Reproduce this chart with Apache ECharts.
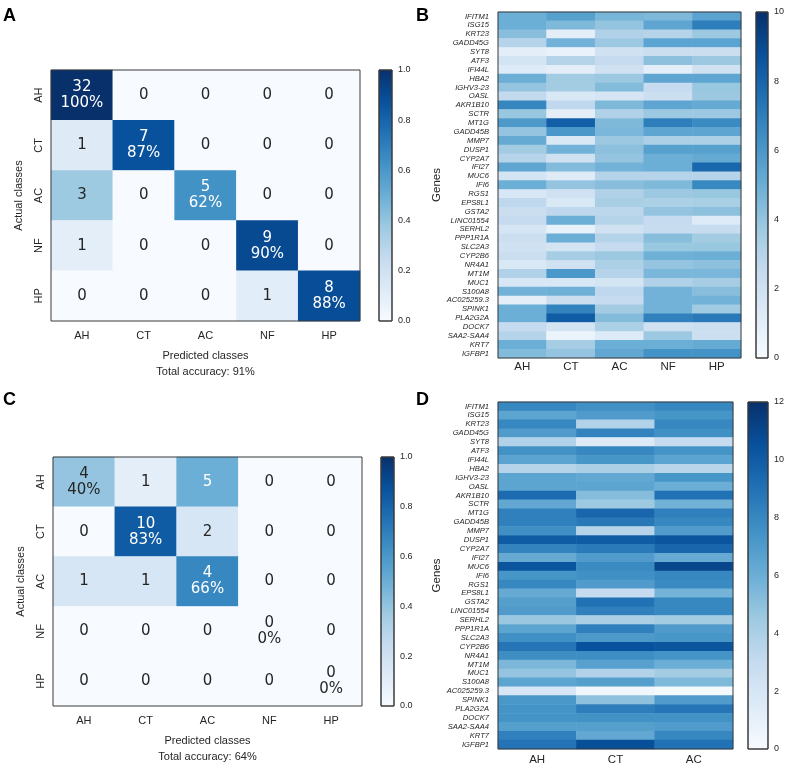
<!DOCTYPE html>
<html>
<head>
<meta charset="utf-8">
<script src="https://cdn.jsdelivr.net/npm/echarts@6/dist/echarts.min.js"></script>
<style>html,body{margin:0;padding:0;background:#fff;}#chart{width:787px;height:771px;}</style>
</head>
<body>
<div id="chart"></div>
<script>
// ---------------- DATA ----------------
const classes = ['AH', 'CT', 'AC', 'NF', 'HP'];
const classesD = ['AH', 'CT', 'AC'];
// confusion matrices: rows = actual, cols = predicted
const cmA = [
  [32, 0, 0, 0, 0],
  [1, 7, 0, 0, 0],
  [3, 0, 5, 0, 0],
  [1, 0, 0, 9, 0],
  [0, 0, 0, 1, 8]
];
const cmC = [
  [4, 1, 5, 0, 0],
  [0, 10, 2, 0, 0],
  [1, 1, 4, 0, 0],
  [0, 0, 0, 0, 0],
  [0, 0, 0, 0, 0]
];
const accuracyA = 'Total accuracy: 91%';
const accuracyC = 'Total accuracy: 64%';

const genes = ['IFITM1','ISG15','KRT23','GADD45G','SYT8','ATF3','IFI44L','HBA2','IGHV3-23','OASL',
  'AKR1B10','SCTR','MT1G','GADD45B','MMP7','DUSP1','CYP2A7','IFI27','MUC6','IFI6',
  'RGS1','EPS8L1','GSTA2','LINC01554','SERHL2','PPP1R1A','SLC2A3','CYP2B6','NR4A1','MT1M',
  'MUC1','S100A8','AC025259.3','SPINK1','PLA2G2A','DOCK7','SAA2-SAA4','KRT7','IGFBP1'];

// panel B expression per class
const bAH = [5.0,5.0,4.3,3.0,1.0,1.8,1.3,5.0,4.0,2.6, 6.7,3.9,5.9,4.0,5.2,3.6,3.0,5.4,1.8,5.0, 1.6,2.7,2.3,2.5,1.7,2.2,2.0,2.3,1.5,3.2, 1.6,4.8,1.0,5.0,5.0,2.5,3.0,5.0,4.4];
const bCT = [5.6,4.5,1.0,4.8,0.7,3.0,1.0,3.6,3.6,1.5, 2.7,1.0,8.2,6.0,1.5,4.8,2.0,4.4,1.2,4.0, 2.0,1.5,2.7,5.0,0.8,5.0,1.8,3.5,2.0,6.0, 1.6,4.9,2.3,6.8,8.3,1.8,0.6,3.5,4.0];
const bAC = [4.7,4.0,3.2,3.8,2.0,2.5,2.0,3.8,4.4,1.7, 4.5,3.2,4.5,4.6,3.8,4.2,4.0,4.8,3.0,4.3, 3.2,3.4,2.8,3.0,2.0,3.0,2.5,3.8,3.3,3.0, 1.8,2.7,2.5,3.6,4.4,3.3,1.3,5.0,5.3];
const bNF = [4.5,5.4,3.0,5.5,2.3,4.2,1.0,5.4,2.5,2.2, 5.4,3.8,7.0,5.4,3.3,5.6,5.0,5.0,3.0,4.5, 3.8,3.3,4.0,2.5,2.4,4.3,3.9,4.9,4.0,4.6, 3.2,4.8,4.8,4.8,6.9,2.0,3.8,5.0,6.2];
const bHP = [5.5,7.0,3.8,5.5,2.3,3.8,2.0,5.4,3.9,3.8, 5.2,3.8,6.5,5.4,3.3,5.6,5.2,7.9,3.0,6.6, 3.9,3.4,4.2,1.3,2.4,3.6,3.9,5.0,4.2,4.6, 3.5,4.3,4.8,3.7,7.2,2.2,2.2,5.2,6.2];

// panel D expression per class
const dAH = [8.0,6.5,8.0,7.0,3.8,7.5,6.6,3.6,6.5,6.5, 9.3,6.3,8.3,8.3,7.6,10.0,8.2,6.2,10.3,7.3, 8.0,6.2,6.8,7.0,4.6,6.5,7.6,8.8,7.7,5.5, 4.8,6.5,2.0,7.2,7.4,7.4,6.8,8.3,8.9];
const dCT = [7.6,7.0,3.8,8.2,1.5,8.0,7.3,4.0,6.3,6.5, 5.2,4.5,9.5,8.7,3.6,10.0,8.6,7.0,7.8,7.6, 7.0,3.0,9.0,8.3,4.0,8.3,7.1,10.5,7.7,6.7, 3.8,6.8,0.5,5.0,8.4,7.5,6.8,6.3,10.6];
const dAC = [8.0,7.3,8.0,7.6,3.0,7.4,6.6,3.5,7.3,6.0, 9.0,5.8,8.3,8.0,7.0,10.3,9.5,6.2,11.0,8.0, 7.8,5.7,8.0,8.0,4.3,7.0,7.3,10.3,7.4,6.0, 4.3,5.4,0.2,7.0,8.8,7.5,7.0,8.0,9.0];

// colour bar scales
const cbA = {min: 0, max: 1, interval: 0.2, digits: 1};
const cbB = {min: 0, max: 10, interval: 2, digits: 0};
const cbD = {min: 0, max: 12, interval: 2, digits: 0};

// ---------------- STYLE ----------------
const blues = ['#f7fbff','#deebf7','#c6dbef','#9ecae1','#6baed6','#4292c6','#2171b5','#08519c','#08306b'];
const sans = 'Liberation Sans, Arial, Helvetica, sans-serif';
const dejavu = 'DejaVu Sans, sans-serif';
const frame = '#3a3a3a';

function confusionData(cm) {
  const out = [];
  cm.forEach((row, i) => {
    const s = row.reduce((a, b) => a + b, 0);
    row.forEach((c, j) => {
      const norm = s ? c / s : 0;
      const txt = i === j ? c + '\n' + Math.floor(100 * norm) + '%' : String(c);
      out.push({value: [j, i, norm], txt: txt,
        label: {color: norm >= 0.5 ? '#ffffff' : '#262626'}});
    });
  });
  return out;
}
function geneData(cols) {
  const out = [];
  cols.forEach((col, j) => col.forEach((v, i) => out.push([j, i, v])));
  return out;
}

const grids = [
  {left: 51, top: 70, width: 309, height: 251},   // 0 A
  {left: 379, top: 70, width: 13, height: 251},   // 1 A cb
  {left: 498, top: 12, width: 243, height: 346},  // 2 B
  {left: 756, top: 12, width: 12, height: 346},   // 3 B cb
  {left: 53, top: 457, width: 309, height: 249},  // 4 C
  {left: 381, top: 457, width: 13, height: 249},  // 5 C cb
  {left: 498, top: 402, width: 235, height: 347}, // 6 D
  {left: 748, top: 402, width: 20, height: 347}   // 7 D cb
].map(g => Object.assign({show: true, borderColor: frame, borderWidth: 1, backgroundColor: 'transparent', z: 10}, g));

const noLine = {axisLine: {show: false}, axisTick: {show: false}, splitLine: {show: false}};

function cmX(gi, acc) {
  return Object.assign({type: 'category', gridIndex: gi, data: classes,
    axisLabel: {fontFamily: sans, fontSize: 11, color: '#262626', margin: 9},
    name: 'Predicted classes\n' + acc, nameLocation: 'middle', nameGap: 27,
    nameTextStyle: {fontFamily: sans, fontSize: 11, color: '#262626', lineHeight: 16}}, noLine);
}
function cmY(gi) {
  return Object.assign({type: 'category', gridIndex: gi, data: classes, inverse: true,
    axisLabel: {fontFamily: sans, fontSize: 11, color: '#262626', rotate: 90, margin: 7},
    name: 'Actual classes', nameLocation: 'middle', nameGap: 27,
    nameTextStyle: {fontFamily: sans, fontSize: 11, color: '#262626'}}, noLine);
}
function cbX(gi) { return {type: 'value', gridIndex: gi, min: 0, max: 1, show: false}; }
function cbY(gi, cb) {
  return Object.assign({type: 'value', gridIndex: gi, min: cb.min, max: cb.max, interval: cb.interval, position: 'right',
    axisLabel: {fontFamily: sans, fontSize: 9, color: '#262626', margin: 6,
      formatter: v => v.toFixed(cb.digits)}}, noLine);
}
function geneX(gi, cats, margin) {
  return Object.assign({type: 'category', gridIndex: gi, data: cats,
    axisLabel: {fontFamily: sans, fontSize: 11.5, color: '#262626', margin: margin}}, noLine);
}
function geneY(gi) {
  return Object.assign({type: 'category', gridIndex: gi, data: genes, inverse: true,
    axisLabel: {fontFamily: sans, fontSize: 7.6, fontStyle: 'italic', color: '#262626', margin: 9, interval: 0},
    name: 'Genes', nameLocation: 'middle', nameGap: 46,
    nameTextStyle: {fontFamily: sans, fontSize: 11.5, color: '#262626'}}, noLine);
}
function colorbar(gi, cb) {
  return {type: 'custom', xAxisIndex: gi, yAxisIndex: gi, silent: true, data: [[0, cb.max]],
    renderItem: (params, api) => {
      const p0 = api.coord([0, cb.max]);
      const p1 = api.coord([1, cb.min]);
      const stops = blues.slice().reverse().map((c, k) => ({offset: k / (blues.length - 1), color: c}));
      return {type: 'rect', shape: {x: p0[0], y: p0[1], width: p1[0] - p0[0], height: p1[1] - p0[1]},
        style: {fill: new echarts.graphic.LinearGradient(0, 0, 0, 1, stops), stroke: frame, lineWidth: 1}};
    }};
}
function cmSeries(gi, cm) {
  return {type: 'heatmap', xAxisIndex: gi, yAxisIndex: gi, data: confusionData(cm),
    label: {show: true, fontFamily: dejavu, fontSize: 15, lineHeight: 16, formatter: p => p.data.txt},
    emphasis: {disabled: true}};
}
function geneSeries(gi, cols) {
  return {type: 'heatmap', xAxisIndex: gi, yAxisIndex: gi, data: geneData(cols), emphasis: {disabled: true}};
}
const letter = (t, l, top) => ({text: t, left: l, top: top, padding: 0,
  textStyle: {fontFamily: sans, fontSize: 18, fontWeight: 'bold', color: '#000'}});

const option = {
  animation: false,
  backgroundColor: '#ffffff',
  title: [letter('A', 3, 7), letter('B', 416, 7), letter('C', 3, 391), letter('D', 416, 391)],
  grid: grids,
  xAxis: [cmX(0, accuracyA), cbX(1), geneX(2, classes, 3), cbX(3), cmX(4, accuracyC), cbX(5), geneX(6, classesD, 5), cbX(7)],
  yAxis: [cmY(0), cbY(1, cbA), geneY(2), cbY(3, cbB), cmY(4), cbY(5, cbA), geneY(6), cbY(7, cbD)],
  visualMap: [
    {show: false, type: 'continuous', seriesIndex: 0, dimension: 2, min: cbA.min, max: cbA.max, inRange: {color: blues}},
    {show: false, type: 'continuous', seriesIndex: 2, dimension: 2, min: cbB.min, max: cbB.max, inRange: {color: blues}},
    {show: false, type: 'continuous', seriesIndex: 4, dimension: 2, min: cbA.min, max: cbA.max, inRange: {color: blues}},
    {show: false, type: 'continuous', seriesIndex: 6, dimension: 2, min: cbD.min, max: cbD.max, inRange: {color: blues}}
  ],
  series: [
    cmSeries(0, cmA), colorbar(1, cbA),
    geneSeries(2, [bAH, bCT, bAC, bNF, bHP]), colorbar(3, cbB),
    cmSeries(4, cmC), colorbar(5, cbA),
    geneSeries(6, [dAH, dCT, dAC]), colorbar(7, cbD)
  ]
};
const chart = echarts.init(document.getElementById('chart'), null, {renderer: 'canvas'});
chart.setOption(option);
</script>
</body>
</html>
